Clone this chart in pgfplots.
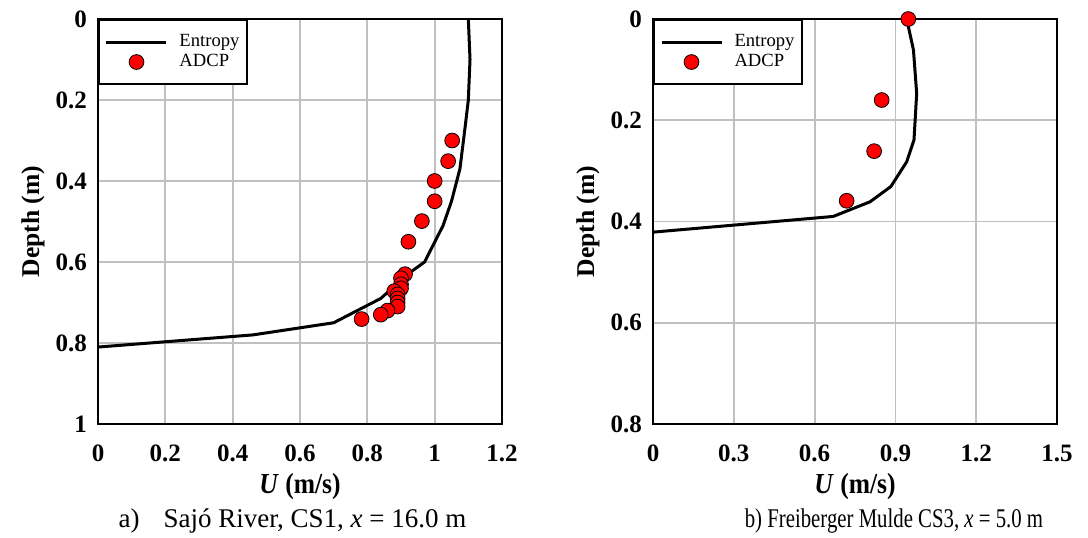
\documentclass[border=0pt]{standalone}
\usepackage{pgfplots}
\pgfplotsset{compat=1.18}
\usepackage{fontspec}
\setmainfont{Liberation Serif}
\newfontfamily\capfont[FakeStretch=0.77]{Liberation Serif}
\newfontfamily\xlabfont[FakeStretch=0.88]{Liberation Serif}
\definecolor{gridgray}{RGB}{192,192,192}
\pgfplotsset{
  myax/.style={
    scale only axis, width=202pt, height=202.5pt,
    y dir=reverse,
    axis line style={line width=1.2pt, black},
    grid=major, grid style={gridgray, line width=0.9pt},
    major tick length=0pt,
    /pgf/number format/assume math mode=true,
    ticklabel style={font=\fontsize{12.5}{14}\selectfont\bfseries},
    xlabel={\textit{U} (m/s)}, ylabel={Depth (m)},
    xlabel style={font=\xlabfont\fontsize{14.5}{16}\selectfont\bfseries,
      at={(axis description cs:0.5,0)}, anchor=base, yshift=-34.5pt},
    ylabel style={font=\fontsize{12.8}{14}\selectfont\bfseries,
      at={(axis description cs:0,0.5)}, anchor=center, rotate=0, yshift=32.5pt},
    legend style={at={(0,1)}, anchor=north west, draw=black, line width=1pt,
      font=\fontsize{9.3}{10}\selectfont, inner xsep=3pt, inner ysep=6pt,
      nodes={inner sep=0.75pt, text height=6.5pt, text depth=2pt}},
    legend cell align=left,
    legend image code/.code={\draw[mark repeat=2,mark phase=2,##1] plot coordinates {(0pt,0pt) (15pt,0pt) (30pt,0pt)}; \path (35pt,0pt);},
    xticklabel style={yshift=-7pt},
    yticklabel style={xshift=-2pt},
  },
  ent/.style={black, line width=1.5pt, no marks},
  adcp/.style={only marks, mark=*, mark size=3.7pt, mark options={fill=red, draw=black, line width=0.4pt}},
}
\begin{document}
\begin{tikzpicture}
\useasboundingbox (0,0) rectangle (544pt,268.5pt);
\begin{axis}[myax, at={(49pt,56.5pt)}, anchor=south west,
  xmin=0, xmax=1.2, ymin=0, ymax=1,
  xtick={0,0.2,...,1.2}, ytick={0,0.2,...,1}]
\addplot[ent] coordinates {
(1.10,0) (1.105,0.1) (1.10,0.2) (1.09,0.27) (1.075,0.37) (1.05,0.45) (1.025,0.51) (0.97,0.6) (0.92,0.63) (0.84,0.69) (0.70,0.75) (0.46,0.78) (0,0.81)};
\addlegendentry{Entropy}
\addplot[adcp] coordinates {
(1.052,0.30) (1.040,0.351) (1.0,0.40) (1.0,0.45) (0.962,0.499) (0.922,0.55)
(0.912,0.63) (0.90,0.64) (0.90,0.655) (0.90,0.665) (0.88,0.672) (0.89,0.68) (0.89,0.69) (0.89,0.70) (0.89,0.71) (0.86,0.72) (0.84,0.73) (0.783,0.741)};
\addlegendentry{ADCP}
\end{axis}
\begin{axis}[myax, at={(326.5pt,56.5pt)}, anchor=south west,
  xmin=0, xmax=1.5, ymin=0, ymax=0.8,
  xtick={0,0.3,...,1.5}, ytick={0,0.2,...,0.8}, clip=false]
\addplot[ent] coordinates {
(0.942,0) (0.967,0.061) (0.979,0.147) (0.969,0.239) (0.942,0.282) (0.883,0.331) (0.806,0.361) (0.669,0.39) (0,0.421)};
\addlegendentry{Entropy}
\addplot[adcp] coordinates {
(0.948,0.0) (0.849,0.16) (0.821,0.261) (0.719,0.359)};
\addlegendentry{ADCP}
\end{axis}
\node[font=\fontsize{13.5}{15}\selectfont, anchor=base, inner sep=0pt] at (146.25pt,5pt) {a)\hspace{12pt}Sajó River, CS1, \textit{x} = 16.0 m};
\node[font=\capfont\fontsize{13.5}{15}\selectfont, anchor=base, inner sep=0pt] at (447pt,5pt) {b) Freiberger Mulde CS3, \textit{x} = 5.0 m};
\end{tikzpicture}
\end{document}
